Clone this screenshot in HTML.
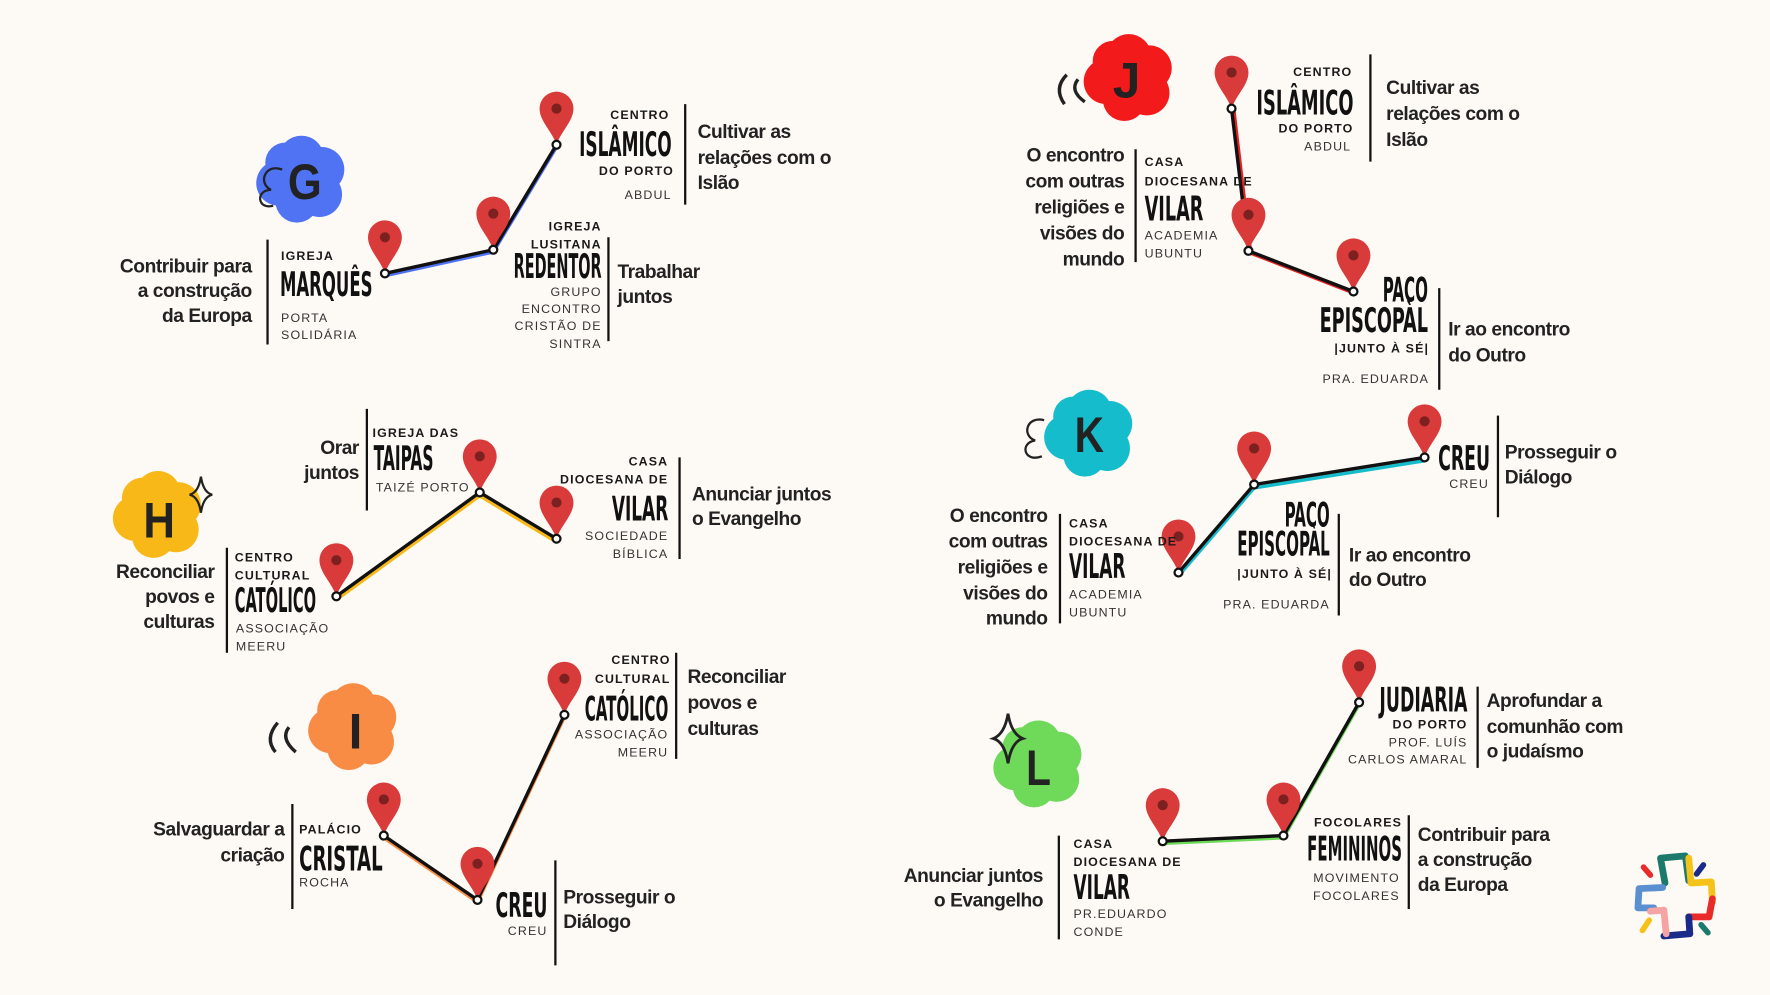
<!DOCTYPE html>
<html><head><meta charset="utf-8"><style>
html,body{margin:0;padding:0;background:#fdf9f4;}
svg{display:block}
.s{font-family:"Liberation Sans",sans-serif;font-weight:bold;font-size:11px;letter-spacing:1px;fill:#1a1a1a}
.l{font-family:"Liberation Sans",sans-serif;font-size:11px;letter-spacing:1px;fill:#333}
.h{font-family:"Liberation Sans Narrow","Liberation Sans",sans-serif;font-weight:bold;font-size:17px;letter-spacing:-0.4px;fill:#222}
.t{font-family:"Liberation Sans Narrow","DejaVu Sans Condensed","Liberation Sans",sans-serif;font-weight:bold;font-size:30px;fill:#111}
.r{text-anchor:end}
.b{stroke:#111;stroke-width:2}
.ln{fill:none;stroke-width:3;stroke-linejoin:round}
.lt{font-family:"Liberation Sans Narrow","Liberation Sans",sans-serif;font-weight:bold;font-size:44px;fill:#222;text-anchor:middle}
</style></head><body>
<svg width="1770" height="995" viewBox="0 0 1568 881" xmlns="http://www.w3.org/2000/svg">
<defs>
<g id="pin"><path d="M0,0 C-4,-12 -15,-21 -15,-32 A15,15 0 1 1 15,-32 C15,-21 4,-12 0,0 Z" fill="#d93a3a"/><circle cx="0" cy="-32" r="4.5" fill="#7d2020"/></g>
<g id="dot"><circle r="3.5" fill="#fff" stroke="#111" stroke-width="2"/></g>
<g id="blob"><circle cx="0" cy="-18" r="20"/><circle cx="18" cy="-8" r="20"/><circle cx="16" cy="14" r="20"/><circle cx="-4" cy="20" r="19"/><circle cx="-20" cy="4" r="20"/><circle cx="-14" cy="-14" r="18"/><circle cx="0" cy="0" r="24"/></g>
</defs>
<rect width="1568" height="881" fill="#fdf9f4"/>

<!-- G -->
<use href="#blob" x="267" y="158" fill="#4f73f2"/>
<text class="lt" x="270" y="176" textLength="30" lengthAdjust="spacingAndGlyphs">G</text>
<path d="M250,150 c-15,-6 -22,12 -10,18 c-14,0 -12,18 2,14" fill="none" stroke="#222" stroke-width="2"/>
<polyline class="ln" points="341,244 437,223 493,130" stroke="#4f73f2"/>
<polyline class="ln" points="341,242 437,221 493,128" stroke="#111"/>
<use href="#pin" x="341" y="242"/><use href="#pin" x="437" y="221"/><use href="#pin" x="493" y="128"/>
<use href="#dot" x="341" y="242"/><use href="#dot" x="437" y="221"/><use href="#dot" x="493" y="128"/>
<text class="s r" x="593" y="105">CENTRO</text>
<text class="t r" x="595" y="138" textLength="82" lengthAdjust="spacingAndGlyphs">ISLÂMICO</text>
<text class="s r" x="597" y="155">DO PORTO</text>
<text class="l r" x="595" y="176">ABDUL</text>
<line class="b" x1="607" y1="92" x2="607" y2="181"/>
<text class="h" x="618" y="122">Cultivar as</text><text class="h" x="618" y="145">relações com o</text><text class="h" x="618" y="167">Islão</text>
<text class="h r" x="223" y="241">Contribuir para</text><text class="h r" x="223" y="263">a construção</text><text class="h r" x="223" y="285">da Europa</text>
<line class="b" x1="237" y1="212" x2="237" y2="305"/>
<text class="s" x="249" y="230">IGREJA</text>
<text class="t" x="248" y="262" textLength="82" lengthAdjust="spacingAndGlyphs">MARQUÊS</text>
<text class="l" x="249" y="285">PORTA</text><text class="l" x="249" y="300">SOLIDÁRIA</text>
<text class="s r" x="533" y="204">IGREJA</text><text class="s r" x="533" y="220">LUSITANA</text>
<text class="t r" x="533" y="246" textLength="78" lengthAdjust="spacingAndGlyphs">REDENTOR</text>
<text class="l r" x="533" y="262">GRUPO</text><text class="l r" x="533" y="277">ENCONTRO</text><text class="l r" x="533" y="292">CRISTÃO DE</text><text class="l r" x="533" y="308">SINTRA</text>
<line class="b" x1="539" y1="210" x2="539" y2="302"/>
<text class="h" x="547" y="246">Trabalhar</text><text class="h" x="547" y="268">juntos</text>

<!-- H -->
<use href="#blob" x="140" y="455" fill="#f7b818"/>
<text class="lt" x="141" y="476" textLength="28" lengthAdjust="spacingAndGlyphs">H</text>
<path d="M178,422 q2,14 10,16 q-8,2 -10,16 q-2,-14 -10,-16 q8,-2 10,-16z" fill="none" stroke="#222" stroke-width="2"/>
<polyline class="ln" points="298,531 425,439 493,480" stroke="#f7b818"/>
<polyline class="ln" points="298,528 425,436 493,477" stroke="#111"/>
<use href="#pin" x="298" y="528"/><use href="#pin" x="425" y="436"/><use href="#pin" x="493" y="477"/>
<use href="#dot" x="298" y="528"/><use href="#dot" x="425" y="436"/><use href="#dot" x="493" y="477"/>
<text class="h r" x="318" y="402">Orar</text><text class="h r" x="318" y="424">juntos</text>
<line class="b" x1="325" y1="362" x2="325" y2="452"/>
<text class="s" x="330" y="387">IGREJA DAS</text>
<text class="t" x="331" y="416" textLength="53" lengthAdjust="spacingAndGlyphs">TAIPAS</text>
<text class="l" x="333" y="435">TAIZÉ PORTO</text>
<text class="s r" x="592" y="412">CASA</text><text class="s r" x="592" y="428">DIOCESANA DE</text>
<text class="t r" x="592" y="461" textLength="50" lengthAdjust="spacingAndGlyphs">VILAR</text>
<text class="l r" x="592" y="478">SOCIEDADE</text><text class="l r" x="592" y="494">BÍBLICA</text>
<line class="b" x1="602" y1="405" x2="602" y2="495"/>
<text class="h" x="613" y="443">Anunciar juntos</text><text class="h" x="613" y="465">o Evangelho</text>
<text class="h r" x="190" y="512">Reconciliar</text><text class="h r" x="190" y="534">povos e</text><text class="h r" x="190" y="556">culturas</text>
<line class="b" x1="201" y1="485" x2="201" y2="578"/>
<text class="s" x="208" y="497">CENTRO</text><text class="s" x="208" y="513">CULTURAL</text>
<text class="t" x="208" y="542" textLength="72" lengthAdjust="spacingAndGlyphs">CATÓLICO</text>
<text class="l" x="209" y="560">ASSOCIAÇÃO</text><text class="l" x="209" y="576">MEERU</text>

<!-- I -->
<use href="#blob" x="313" y="643" fill="#f98c45"/>
<text class="lt" x="315" y="663">I</text>
<path d="M246,640 q-12,14 -2,26 M256,644 q-8,10 6,22" fill="none" stroke="#222" stroke-width="3"/>
<polyline class="ln" points="340,742 423,799 500,635" stroke="#f98c45"/>
<polyline class="ln" points="340,740 423,797 500,633" stroke="#111"/>
<use href="#pin" x="340" y="740"/><use href="#pin" x="423" y="797"/><use href="#pin" x="500" y="633"/>
<use href="#dot" x="340" y="740"/><use href="#dot" x="423" y="797"/><use href="#dot" x="500" y="633"/>
<text class="s r" x="594" y="588">CENTRO</text><text class="s r" x="594" y="605">CULTURAL</text>
<text class="t r" x="592" y="638" textLength="74" lengthAdjust="spacingAndGlyphs">CATÓLICO</text>
<text class="l r" x="592" y="654">ASSOCIAÇÃO</text><text class="l r" x="592" y="670">MEERU</text>
<line class="b" x1="599" y1="578" x2="599" y2="672"/>
<text class="h" x="609" y="605">Reconciliar</text><text class="h" x="609" y="628">povos e</text><text class="h" x="609" y="651">culturas</text>
<text class="h r" x="252" y="740">Salvaguardar a</text><text class="h r" x="252" y="763">criação</text>
<line class="b" x1="259" y1="712" x2="259" y2="805"/>
<text class="s" x="265" y="738">PALÁCIO</text>
<text class="t" x="265" y="771" textLength="74" lengthAdjust="spacingAndGlyphs">CRISTAL</text>
<text class="l" x="265" y="785">ROCHA</text>
<text class="t r" x="485" y="812" textLength="46" lengthAdjust="spacingAndGlyphs">CREU</text>
<text class="l r" x="485" y="828">CREU</text>
<line class="b" x1="492" y1="762" x2="492" y2="855"/>
<text class="h" x="499" y="800">Prosseguir o</text><text class="h" x="499" y="822">Diálogo</text>

<!-- J -->
<use href="#blob" x="1000" y="68" fill="#f21a1a"/>
<text class="lt" x="998" y="86">J</text>
<path d="M945,66 q-12,12 -2,26 M955,70 q-8,10 6,20" fill="none" stroke="#222" stroke-width="3"/>
<polyline class="ln" points="1093,97 1108,224 1201,260" stroke="#e52222"/>
<polyline class="ln" points="1091,96 1106,222 1199,258" stroke="#111"/>
<use href="#pin" x="1091" y="96"/><use href="#pin" x="1106" y="222"/><use href="#pin" x="1199" y="258"/>
<use href="#dot" x="1091" y="96"/><use href="#dot" x="1106" y="222"/><use href="#dot" x="1199" y="258"/>
<text class="s r" x="1198" y="67">CENTRO</text>
<text class="t r" x="1199" y="101" textLength="86" lengthAdjust="spacingAndGlyphs">ISLÂMICO</text>
<text class="s r" x="1199" y="117">DO PORTO</text>
<text class="l r" x="1197" y="133">ABDUL</text>
<line class="b" x1="1214" y1="48" x2="1214" y2="143"/>
<text class="h" x="1228" y="83">Cultivar as</text><text class="h" x="1228" y="106">relações com o</text><text class="h" x="1228" y="129">Islão</text>
<text class="h r" x="996" y="143">O encontro</text><text class="h r" x="996" y="166">com outras</text><text class="h r" x="996" y="189">religiões e</text><text class="h r" x="996" y="212">visões do</text><text class="h r" x="996" y="235">mundo</text>
<line class="b" x1="1006" y1="132" x2="1006" y2="232"/>
<text class="s" x="1014" y="147">CASA</text><text class="s" x="1014" y="164">DIOCESANA DE</text>
<text class="t" x="1014" y="195" textLength="52" lengthAdjust="spacingAndGlyphs">VILAR</text>
<text class="l" x="1014" y="212">ACADEMIA</text><text class="l" x="1014" y="228">UBUNTU</text>
<text class="t r" x="1265" y="267" textLength="40" lengthAdjust="spacingAndGlyphs">PACO</text>
<text class="t r" x="1265" y="294" textLength="96" lengthAdjust="spacingAndGlyphs">EPISCOPÀL</text>
<text class="s r" x="1266" y="312">|JUNTO À SÉ|</text>
<text class="l r" x="1266" y="339">PRA. EDUARDA</text>
<line class="b" x1="1275" y1="255" x2="1275" y2="345"/>
<text class="h" x="1283" y="297">Ir ao encontro</text><text class="h" x="1283" y="320">do Outro</text>

<!-- K -->
<use href="#blob" x="965" y="383" fill="#15bccb"/>
<text class="lt" x="965" y="400" textLength="26" lengthAdjust="spacingAndGlyphs">K</text>
<path d="M925,372 c-16,-4 -20,14 -8,18 c-14,2 -10,20 6,14" fill="none" stroke="#222" stroke-width="2"/>
<polyline class="ln" points="1044,510 1111,432 1262,408" stroke="#15bccb"/>
<polyline class="ln" points="1044,507 1111,429 1262,405" stroke="#111"/>
<use href="#pin" x="1044" y="507"/><use href="#pin" x="1111" y="429"/><use href="#pin" x="1262" y="405"/>
<use href="#dot" x="1044" y="507"/><use href="#dot" x="1111" y="429"/><use href="#dot" x="1262" y="405"/>
<text class="t r" x="1320" y="416" textLength="46" lengthAdjust="spacingAndGlyphs">CREU</text>
<text class="l r" x="1319" y="432">CREU</text>
<line class="b" x1="1327" y1="368" x2="1327" y2="458"/>
<text class="h" x="1333" y="406">Prosseguir o</text><text class="h" x="1333" y="428">Diálogo</text>
<text class="t r" x="1178" y="466" textLength="40" lengthAdjust="spacingAndGlyphs">PACO</text>
<text class="t r" x="1178" y="492" textLength="82" lengthAdjust="spacingAndGlyphs">EPISCOPÀL</text>
<text class="s r" x="1180" y="512">|JUNTO À SÉ|</text>
<text class="l r" x="1178" y="539">PRA. EDUARDA</text>
<line class="b" x1="1186" y1="455" x2="1186" y2="545"/>
<text class="h" x="1195" y="497">Ir ao encontro</text><text class="h" x="1195" y="519">do Outro</text>
<text class="h r" x="928" y="462">O encontro</text><text class="h r" x="928" y="485">com outras</text><text class="h r" x="928" y="508">religiões e</text><text class="h r" x="928" y="531">visões do</text><text class="h r" x="928" y="553">mundo</text>
<line class="b" x1="939" y1="455" x2="939" y2="552"/>
<text class="s" x="947" y="467">CASA</text><text class="s" x="947" y="483">DIOCESANA DE</text>
<text class="t" x="947" y="512" textLength="50" lengthAdjust="spacingAndGlyphs">VILAR</text>
<text class="l" x="947" y="530">ACADEMIA</text><text class="l" x="947" y="546">UBUNTU</text>

<!-- L -->
<use href="#blob" x="920" y="676" fill="#6fd95a"/>
<text class="lt" x="920" y="695" textLength="22" lengthAdjust="spacingAndGlyphs">L</text>
<path d="M893,632 q3,18 13,22 q-10,3 -13,22 q-3,-19 -13,-22 q10,-4 13,-22z" fill="none" stroke="#222" stroke-width="2.5"/>
<polyline class="ln" points="1030,747 1137,742 1204,624" stroke="#6fd95a"/>
<polyline class="ln" points="1030,745 1137,740 1204,622" stroke="#111"/>
<use href="#pin" x="1030" y="745"/><use href="#pin" x="1137" y="740"/><use href="#pin" x="1204" y="622"/>
<use href="#dot" x="1030" y="745"/><use href="#dot" x="1137" y="740"/><use href="#dot" x="1204" y="622"/>
<text class="t r" x="1300" y="630" textLength="78" lengthAdjust="spacingAndGlyphs">JUDIARIA</text>
<text class="s r" x="1300" y="645">DO PORTO</text>
<text class="l r" x="1300" y="661">PROF. LUÍS</text><text class="l r" x="1300" y="676">CARLOS AMARAL</text>
<line class="b" x1="1309" y1="608" x2="1309" y2="680"/>
<text class="h" x="1317" y="626">Aprofundar a</text><text class="h" x="1317" y="649">comunhão com</text><text class="h" x="1317" y="671">o judaísmo</text>
<text class="s r" x="1242" y="732">FOCOLARES</text>
<text class="t r" x="1242" y="762" textLength="84" lengthAdjust="spacingAndGlyphs">FEMININOS</text>
<text class="l r" x="1240" y="781">MOVIMENTO</text><text class="l r" x="1240" y="797">FOCOLARES</text>
<line class="b" x1="1248" y1="722" x2="1248" y2="805"/>
<text class="h" x="1256" y="745">Contribuir para</text><text class="h" x="1256" y="767">a construção</text><text class="h" x="1256" y="789">da Europa</text>
<text class="h r" x="924" y="781">Anunciar juntos</text><text class="h r" x="924" y="803">o Evangelho</text>
<line class="b" x1="938" y1="740" x2="938" y2="832"/>
<text class="s" x="951" y="751">CASA</text><text class="s" x="951" y="767">DIOCESANA DE</text>
<text class="t" x="951" y="796" textLength="50" lengthAdjust="spacingAndGlyphs">VILAR</text>
<text class="l" x="951" y="813">PR.EDUARDO</text><text class="l" x="951" y="829">CONDE</text>

<!-- logo -->
<g fill="none" stroke-width="6" stroke-linecap="round" stroke-linejoin="round">
<polyline points="1475,782 1471,760 1493,758 1496,780" stroke="#1b7a6c"/>
<polyline points="1496,760 1498,782 1516,781 1517,799" stroke="#f5c21a"/>
<polyline points="1517,796 1514,812 1496,812" stroke="#e82a2a"/>
<polyline points="1496,812 1497,827 1474,829" stroke="#1a2a8a"/>
<polyline points="1473,786 1452,787 1451,804 1465,804" stroke="#5a8fd0"/>
<polyline points="1462,807 1474,806 1476,827" stroke="#f5a3a3"/>
<line x1="1456" y1="768" x2="1462" y2="775" stroke="#e82a2a" stroke-width="5"/>
<line x1="1509" y1="766" x2="1503" y2="774" stroke="#1a2a8a" stroke-width="5"/>
<line x1="1455" y1="824" x2="1461" y2="815" stroke="#f5c21a" stroke-width="5"/>
<line x1="1507" y1="819" x2="1513" y2="826" stroke="#1b7a6c" stroke-width="5"/>
</g>
</svg>
</body></html>
